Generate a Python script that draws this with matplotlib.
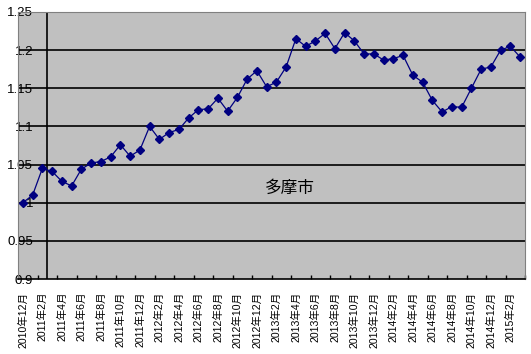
import matplotlib
matplotlib.use("Agg")
import matplotlib.pyplot as plt

plt.rcParams['font.family'] = ['Liberation Sans', 'Noto Sans CJK JP', 'DejaVu Sans']

# 2010年12月 .. 2015年3月, monthly
months = []
y, m = 2010, 12
for _ in range(52):
    months.append("{}年{}月".format(y, m))
    m += 1
    if m > 12:
        m = 1
        y += 1

values = [1.000, 1.010, 1.045, 1.041, 1.028, 1.022, 1.044, 1.052, 1.054, 1.060,
          1.076, 1.061, 1.069, 1.100, 1.083, 1.092, 1.096, 1.111, 1.122, 1.123,
          1.137, 1.120, 1.138, 1.162, 1.173, 1.152, 1.158, 1.178, 1.215, 1.205,
          1.212, 1.222, 1.202, 1.223, 1.212, 1.195, 1.195, 1.187, 1.189, 1.193,
          1.167, 1.158, 1.134, 1.119, 1.126, 1.125, 1.150, 1.175, 1.178, 1.200,
          1.205, 1.191]

yticks = [0.9, 0.95, 1.0, 1.05, 1.1, 1.15, 1.2, 1.25]
ytick_labels = ["0.9", "0.95", "1", "1.05", "1.1", "1.15", "1.2", "1.25"]
title = "多摩市"

fig = plt.figure(figsize=(5.31, 3.54), dpi=100)
ax = fig.add_axes([18 / 531, 75 / 354, 507 / 531, 267 / 354])
ax.set_facecolor('#c0c0c0')

x = list(range(len(values)))
ax.set_xlim(-0.5, len(values) - 0.5)
ax.set_ylim(0.9, 1.25)

for v in yticks[1:-1]:
    ax.axhline(v, color='black', linewidth=1.2, zorder=1)
# value axis crosses between 2011年2月 and 2011年3月
ax.axvline(2.5, color='black', linewidth=1.2, zorder=1)

ax.plot(x, values, color='#000080', linewidth=0.9, marker='D', markersize=4.5,
        markerfacecolor='#000080', markeredgecolor='#000080', zorder=3)

for side in ['top', 'right', 'left']:
    ax.spines[side].set_color('#808080')
ax.spines['bottom'].set_color('black')
ax.spines['bottom'].set_linewidth(1.2)

ax.set_yticks(yticks)
ax.set_yticklabels(ytick_labels, fontsize=9.5)
ax.tick_params(axis='y', length=0, pad=-11)

ax.set_xticks(x[::2])
ax.set_xticklabels(months[::2], rotation=90, fontsize=7.6)
ax.set_xticks([k - 0.5 for k in range(0, len(values) + 1, 2)], minor=True)
ax.tick_params(axis='x', which='major', length=0, pad=9)
ax.tick_params(axis='x', which='minor', length=3, direction='in', width=1)

ax.text(0.537, 0.338, title, transform=ax.transAxes, fontsize=12,
        ha='center', va='center', family=['Noto Sans CJK JP'])

fig.savefig('out.png', dpi=100)
